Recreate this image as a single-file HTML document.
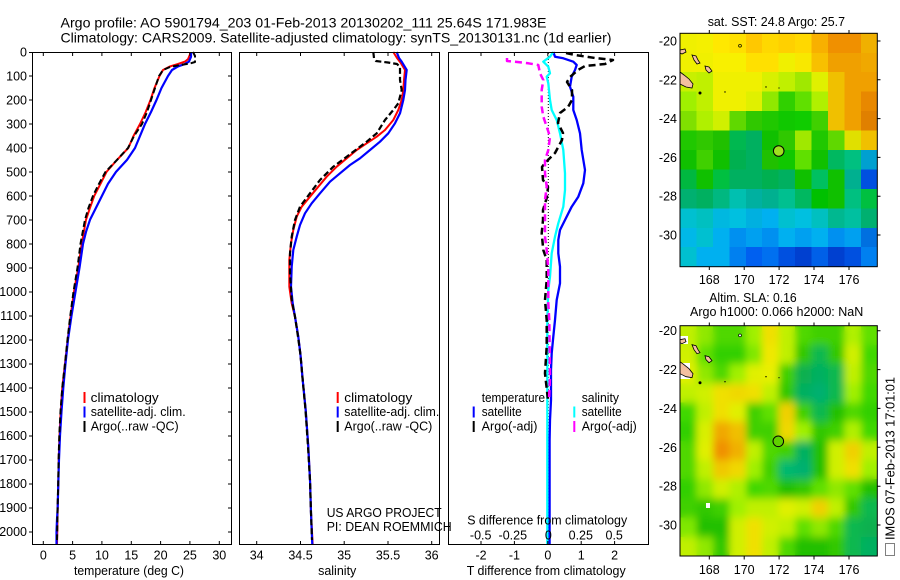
<!DOCTYPE html>
<html><head><meta charset="utf-8">
<style>
html,body{margin:0;padding:0;background:#fff;}
svg{display:block;font-family:"Liberation Sans",Arial,Helvetica,sans-serif;}
</style></head><body>
<svg width="900" height="580" viewBox="0 0 900 580" xmlns="http://www.w3.org/2000/svg">
<defs>
<filter id="bl" x="-0.2" y="-0.2" width="1.4" height="1.4"><feGaussianBlur stdDeviation="0.22"/></filter>
</defs>
<rect width="900" height="580" fill="#fff"/>

<!-- Titles -->
<text x="60.5" y="27.3" font-size="14" textLength="486" lengthAdjust="spacingAndGlyphs">Argo profile: AO 5901794_203 01-Feb-2013 20130202_111 25.64S 171.983E</text>
<text x="60.5" y="42.7" font-size="14" textLength="551" lengthAdjust="spacingAndGlyphs">Climatology: CARS2009. Satellite-adjusted climatology: synTS_20130131.nc (1d earlier)</text>

<!-- ========== LEFT PANEL ========== -->
<g fill="none" stroke-linejoin="round">
<polyline stroke="#ff0000" stroke-width="2" points="190,52 190,54.4 188,59.2 185,61.6 178,64 170,66.4 163,70 159.5,76 154.5,88 150.5,100 145.7,112 140,124 133.5,136 128.3,148 117,159.9 106.5,171.9 100.5,183.8 94.3,195.8 90,207.8 86,219.8 81.7,243.8 78.3,267.7 74,291.7 70.7,315.7 67.7,339.6 65,363.6 62.3,387.6 60.7,411.6 59.5,435.5 58.7,459.5 58.3,483.5 57.7,507.4 57.3,531.4 57,545"/>
<polyline stroke="#0000ff" stroke-width="2.2" points="191,52 191,56.8 189,61.6 185,64 178,66.4 172,70 168,76 161.5,88 156.5,100 151,112 145,124 140,136 135,148 127,159.9 116,171.9 108,183.8 102,195.8 96,207.8 90,219.8 86,231.8 83,243.8 79.5,267.7 75.5,291.7 71.5,315.7 68,339.6 65.5,363.6 63.3,387.6 61.5,411.6 60,435.5 59,459.5 58.3,483.5 57.7,507.4 57,519.4 56.5,531.4 56.5,545"/>
<polyline stroke="#000" stroke-width="2" stroke-dasharray="6,3" points="193,52 195,56 195,62 190,63.5 180,65 170,67 163,70 159,76 155,88 151,100 147,112 142,124 134,136 128,148 117,159.9 105.5,171.9 99,183.8 93,195.8 88.5,207.8 85,219.8 80.5,243.8 77.5,267.7 73.5,291.7 70.3,315.7 67.5,339.6 65,363.6 62.3,387.6 60.5,411.6 59.3,435.5 58.6,459.5 58.2,483.5 57.6,507.4 57.2,531.4 57,540"/>
</g>
<rect x="32.5" y="52.5" width="199" height="492" fill="none" stroke="#000" stroke-width="1"/>
<path stroke="#000" stroke-width="1" fill="none" d="M29,52.5H32.5M29,76H32.5M29,100H32.5M29,124H32.5M29,148H32.5M29,172H32.5M29,196H32.5M29,220H32.5M29,244H32.5M29,268H32.5M29,292H32.5M29,316H32.5M29,340H32.5M29,364H32.5M29,388H32.5M29,412H32.5M29,436H32.5M29,460H32.5M29,484H32.5M29,508H32.5M29,532H32.5
M228,76H231.5M228,100H231.5M228,124H231.5M228,148H231.5M228,172H231.5M228,196H231.5M228,220H231.5M228,244H231.5M228,268H231.5M228,292H231.5M228,316H231.5M228,340H231.5M228,364H231.5M228,388H231.5M228,412H231.5M228,436H231.5M228,460H231.5M228,484H231.5M228,508H231.5M228,532H231.5
M43.3,52.5V56M72.6,52.5V56M101.9,52.5V56M131.3,52.5V56M160.6,52.5V56M189.9,52.5V56M219.3,52.5V56
M43.3,541V544.5M72.6,541V544.5M101.9,541V544.5M131.3,541V544.5M160.6,541V544.5M189.9,541V544.5M219.3,541V544.5"/>
<g font-size="12.5" text-anchor="end">
<text x="27" y="56.5">0</text><text x="27" y="80.5">100</text><text x="27" y="104.4">200</text><text x="27" y="128.4">300</text><text x="27" y="152.4">400</text><text x="27" y="176.4">500</text><text x="27" y="200.3">600</text><text x="27" y="224.3">700</text><text x="27" y="248.3">800</text><text x="27" y="272.2">900</text><text x="27" y="296.2">1000</text><text x="27" y="320.2">1100</text><text x="27" y="344.1">1200</text><text x="27" y="368.1">1300</text><text x="27" y="392.1">1400</text><text x="27" y="416.1">1500</text><text x="27" y="440">1600</text><text x="27" y="464">1700</text><text x="27" y="488">1800</text><text x="27" y="511.9">1900</text><text x="27" y="535.9">2000</text>
</g>
<g font-size="12.5" text-anchor="middle">
<text x="43.3" y="559.5">0</text><text x="72.6" y="559.5">5</text><text x="101.9" y="559.5">10</text><text x="131.3" y="559.5">15</text><text x="160.6" y="559.5">20</text><text x="189.9" y="559.5">25</text><text x="219.3" y="559.5">30</text>
</g>
<text x="74" y="575" font-size="12.5" textLength="110" lengthAdjust="spacingAndGlyphs">temperature (deg C)</text>
<rect x="83.5" y="392" width="2" height="11" fill="#ff0000"/>
<rect x="83.5" y="406.5" width="2" height="11" fill="#0000ff"/>
<rect x="83.5" y="421" width="2" height="11" fill="#000"/>
<g font-size="12.5">
<text x="90.7" y="401.8" textLength="68" lengthAdjust="spacingAndGlyphs">climatology</text>
<text x="90.7" y="416.2" textLength="95" lengthAdjust="spacingAndGlyphs">satellite-adj. clim.</text>
<text x="90.7" y="430.5" textLength="88" lengthAdjust="spacingAndGlyphs">Argo(..raw -QC)</text>
</g>

<!-- ========== MIDDLE PANEL ========== -->
<g fill="none" stroke-linejoin="round">
<polyline stroke="#ff0000" stroke-width="2" points="393.3,52 397,58 401,63.3 405,70 404,80 403.3,90 401.7,100 398.3,110 393.3,120 385,130 376.7,136.7 366.7,143.3 356.7,150 346.7,158.3 336.7,166.7 326.7,176.7 318.3,186.7 310,196.7 301.7,206.7 296.7,216.7 293.3,230 291,243.3 289.3,260 289.3,286.7 291.7,303.3 295,316.7 298.3,336.7 300.5,355 302.7,380 305.7,410 308.3,446.7 310,480 311,513 312.7,545"/>
<polyline stroke="#0000ff" stroke-width="2.2" points="396.7,52 399,58 401.7,61.7 406.7,70 405.5,80 405,90 403.3,100 400,113.3 395,123.3 388.3,133.3 380,141.7 370,150 360,158.3 350,165 340,173.3 330,181.7 320,193.3 311.7,203.3 305,213.3 300,225 296.7,236.7 293.3,250 291.7,266.7 291,286.7 292.7,303.3 295,316.7 298.3,336.7 300.5,355 302.7,380 305.7,410 308.3,446.7 310,480 311,513 312.3,545"/>
<polyline stroke="#000" stroke-width="2.2" stroke-dasharray="6,3" points="373.3,52 374,58 376,61 388,62.5 397,64 400,67 400,80 401.7,90 398.3,103.3 393.3,110 385,120 376.7,133.3 366.7,141.7 346.7,156.7 333.3,166.7 320,180 310,193.3 300,206.7 295,220 291.7,236.7 290,253.3 290,273.3 291.7,300 295,316.7 298,336.7 300.5,355 302.7,380 305.5,410 308,446.7 310,480 311,513 312,540"/>
</g>
<rect x="239.5" y="52.5" width="200" height="492" fill="none" stroke="#000" stroke-width="1"/>
<path stroke="#000" stroke-width="1" fill="none" d="M256.7,52.5V56M300.5,52.5V56M344.2,52.5V56M388,52.5V56M431.7,52.5V56M256.7,541V544.5M300.5,541V544.5M344.2,541V544.5M388,541V544.5M431.7,541V544.5"/>
<g font-size="12.5" text-anchor="middle">
<text x="256.7" y="559.5">34</text><text x="300.5" y="559.5">34.5</text><text x="344.2" y="559.5">35</text><text x="388" y="559.5">35.5</text><text x="431.7" y="559.5">36</text>
<text x="337.2" y="575">salinity</text>
</g>
<rect x="336.7" y="392" width="2" height="11" fill="#ff0000"/>
<rect x="336.7" y="406.5" width="2" height="11" fill="#0000ff"/>
<rect x="336.7" y="421" width="2" height="11" fill="#000"/>
<g font-size="12.5">
<text x="344.3" y="401.8" textLength="68" lengthAdjust="spacingAndGlyphs">climatology</text>
<text x="344.3" y="416.2" textLength="95" lengthAdjust="spacingAndGlyphs">satellite-adj. clim.</text>
<text x="344.3" y="430.5" textLength="88" lengthAdjust="spacingAndGlyphs">Argo(..raw -QC)</text>
<text x="326.7" y="517.2" textLength="115" lengthAdjust="spacingAndGlyphs">US ARGO PROJECT</text>
<text x="326.7" y="531.2" textLength="125" lengthAdjust="spacingAndGlyphs">PI: DEAN ROEMMICH</text>
</g>

<!-- ========== RIGHT PANEL ========== -->
<line x1="548.3" y1="53" x2="548.3" y2="544" stroke="#000" stroke-width="1" stroke-dasharray="1,2"/>
<g fill="none" stroke-linejoin="round">
<polyline stroke="#0000ff" stroke-width="2.3" points="553.3,52 555,56.7 563.3,58.3 573.3,61.7 576.7,65 575,70 571.7,76.7 570,86.7 573.3,96.7 573.3,110 576.7,120 580,133.3 581.7,150 585,170 583.3,183.3 578.3,196.7 571.7,206.7 565,220 560,230 558.3,240 558.3,253.3 560,266.7 560,283.3 556.7,300 555,320 553.3,336.7 551.7,353.3 551,370 551,400 550,420 549.6,440 549.6,545"/>
<polyline stroke="#00ffff" stroke-width="2.3" points="553.3,52 550,56.7 543.3,61.7 548.3,66.7 550,73.3 546.7,76.7 548.3,83.3 550,100 551.7,110 556.7,120 560,133.3 563.3,150 565,173.3 565,190 563.3,206.7 558.3,223.3 555,236.7 551.7,253.3 550,276.7 548.3,290 547.3,320 547.3,545"/>
<polyline stroke="#000" stroke-width="2.5" stroke-dasharray="7,4" points="566,53 575,55 595,58 613,60 605,64 585,66 578,70 570,77 567,82 572,90 572,100 568,107 560,113 558,123 563,133 562,140 555,153 545,163 542,167 543,180 548,187 547,197 543,210 543,220 541.7,233.3 543.3,250 546.7,260 546.7,280 545,300 546.7,320 546.7,346.7 545,373.3 548,400"/>
<polyline stroke="#ff00ff" stroke-width="2.5" stroke-dasharray="7,4" points="507,58 507,61 515,61.7 528.3,63.3 538.3,65 540,73.3 543.3,80 541.7,90 541.7,106.7 543.3,116.7 546.7,126.7 550,136.7 548.3,150 545,160 545,173.3 546.7,186.7 545,200 545,213.3 545,236.7 546.7,250 548.3,270 548.3,303.3 549.3,320 550,376.7 549,400"/>
</g>
<rect x="448.5" y="52.5" width="200" height="492" fill="none" stroke="#000" stroke-width="1"/>
<path stroke="#000" stroke-width="1" fill="none" d="M481,52.5V56M514.4,52.5V56M547.8,52.5V56M581.2,52.5V56M614.6,52.5V56M481,541V544.5M514.4,541V544.5M547.8,541V544.5M581.2,541V544.5M614.6,541V544.5"/>
<g font-size="12.5" text-anchor="middle">
<text x="481" y="559.5">-2</text><text x="514.4" y="559.5">-1</text><text x="547.8" y="559.5">0</text><text x="581.2" y="559.5">1</text><text x="614.6" y="559.5">2</text>
<text x="480.7" y="539.5">-0.5</text><text x="512.8" y="539.5">-0.25</text><text x="548.3" y="539.5">0</text><text x="580.8" y="539.5">0.25</text><text x="614.2" y="539.5">0.5</text>
</g>
<g font-size="12.5">
<text x="467.2" y="524.5" textLength="160" lengthAdjust="spacingAndGlyphs">S difference from climatology</text>
<text x="466.7" y="575" textLength="159" lengthAdjust="spacingAndGlyphs">T difference from climatology</text>
<text x="481.7" y="401.8" textLength="63.3" lengthAdjust="spacingAndGlyphs">temperature</text>
<text x="481.7" y="416.2" textLength="40" lengthAdjust="spacingAndGlyphs">satellite</text>
<text x="481.7" y="430.5" textLength="55.7" lengthAdjust="spacingAndGlyphs">Argo(-adj)</text>
<text x="581.7" y="401.8" textLength="37.3" lengthAdjust="spacingAndGlyphs">salinity</text>
<text x="581.7" y="416.2" textLength="40" lengthAdjust="spacingAndGlyphs">satellite</text>
<text x="581.7" y="430.5" textLength="55" lengthAdjust="spacingAndGlyphs">Argo(-adj)</text>
</g>
<rect x="472.7" y="406.5" width="2" height="11" fill="#0000ff"/>
<rect x="472.7" y="421" width="2" height="11" fill="#000"/>
<rect x="573.3" y="406.5" width="2" height="11" fill="#00ffff"/>
<rect x="573.3" y="421" width="2" height="11" fill="#ff00ff"/>

<!-- ========== MAP 1 (SST) ========== -->
<text x="707.7" y="26.2" font-size="12.5" textLength="137.3" lengthAdjust="spacingAndGlyphs">sat. SST: 24.8 Argo: 25.7</text>
<svg x="680" y="33.3" width="197.3" height="233.4" viewBox="0 0 12 12" preserveAspectRatio="none" shape-rendering="crispEdges">
<g>
<rect x="0" y="0" width="1.05" height="1.05" fill="#f0f000"/><rect x="1" y="0" width="1.05" height="1.05" fill="#f4f000"/><rect x="2" y="0" width="1.05" height="1.05" fill="#ffe800"/><rect x="3" y="0" width="1.05" height="1.05" fill="#ffe000"/><rect x="4" y="0" width="1.05" height="1.05" fill="#ffc800"/><rect x="5" y="0" width="1.05" height="1.05" fill="#ffd800"/><rect x="6" y="0" width="1.05" height="1.05" fill="#ffd000"/><rect x="7" y="0" width="1.05" height="1.05" fill="#ffd800"/><rect x="8" y="0" width="1.05" height="1.05" fill="#f8b000"/><rect x="9" y="0" width="1.05" height="1.05" fill="#f09000"/><rect x="10" y="0" width="1.05" height="1.05" fill="#f09000"/><rect x="11" y="0" width="1.05" height="1.05" fill="#f0b000"/>
<rect x="0" y="1" width="1.05" height="1.05" fill="#f0f000"/><rect x="1" y="1" width="1.05" height="1.05" fill="#f0f000"/><rect x="2" y="1" width="1.05" height="1.05" fill="#f8f000"/><rect x="3" y="1" width="1.05" height="1.05" fill="#f8f000"/><rect x="4" y="1" width="1.05" height="1.05" fill="#ffe000"/><rect x="5" y="1" width="1.05" height="1.05" fill="#ffe000"/><rect x="6" y="1" width="1.05" height="1.05" fill="#f0f000"/><rect x="7" y="1" width="1.05" height="1.05" fill="#f8e800"/><rect x="8" y="1" width="1.05" height="1.05" fill="#f8c000"/><rect x="9" y="1" width="1.05" height="1.05" fill="#f0a000"/><rect x="10" y="1" width="1.05" height="1.05" fill="#f0a000"/><rect x="11" y="1" width="1.05" height="1.05" fill="#f0a800"/>
<rect x="0" y="2" width="1.05" height="1.05" fill="#c8f000"/><rect x="1" y="2" width="1.05" height="1.05" fill="#c0f000"/><rect x="2" y="2" width="1.05" height="1.05" fill="#f0f000"/><rect x="3" y="2" width="1.05" height="1.05" fill="#f0f000"/><rect x="4" y="2" width="1.05" height="1.05" fill="#f0f000"/><rect x="5" y="2" width="1.05" height="1.05" fill="#d8f000"/><rect x="6" y="2" width="1.05" height="1.05" fill="#c0f000"/><rect x="7" y="2" width="1.05" height="1.05" fill="#a0e800"/><rect x="8" y="2" width="1.05" height="1.05" fill="#e0f000"/><rect x="9" y="2" width="1.05" height="1.05" fill="#f0c000"/><rect x="10" y="2" width="1.05" height="1.05" fill="#f0a000"/><rect x="11" y="2" width="1.05" height="1.05" fill="#f0a000"/>
<rect x="0" y="3" width="1.05" height="1.05" fill="#a0f000"/><rect x="1" y="3" width="1.05" height="1.05" fill="#c0f000"/><rect x="2" y="3" width="1.05" height="1.05" fill="#f0f000"/><rect x="3" y="3" width="1.05" height="1.05" fill="#f0f000"/><rect x="4" y="3" width="1.05" height="1.05" fill="#e0f000"/><rect x="5" y="3" width="1.05" height="1.05" fill="#90e800"/><rect x="6" y="3" width="1.05" height="1.05" fill="#30d000"/><rect x="7" y="3" width="1.05" height="1.05" fill="#60e000"/><rect x="8" y="3" width="1.05" height="1.05" fill="#b0f000"/><rect x="9" y="3" width="1.05" height="1.05" fill="#f0c000"/><rect x="10" y="3" width="1.05" height="1.05" fill="#f0a000"/><rect x="11" y="3" width="1.05" height="1.05" fill="#e88800"/>
<rect x="0" y="4" width="1.05" height="1.05" fill="#80e000"/><rect x="1" y="4" width="1.05" height="1.05" fill="#b0f000"/><rect x="2" y="4" width="1.05" height="1.05" fill="#d0f000"/><rect x="3" y="4" width="1.05" height="1.05" fill="#60d800"/><rect x="4" y="4" width="1.05" height="1.05" fill="#30c800"/><rect x="5" y="4" width="1.05" height="1.05" fill="#20c800"/><rect x="6" y="4" width="1.05" height="1.05" fill="#10c800"/><rect x="7" y="4" width="1.05" height="1.05" fill="#10cc00"/><rect x="8" y="4" width="1.05" height="1.05" fill="#40d000"/><rect x="9" y="4" width="1.05" height="1.05" fill="#f0c000"/><rect x="10" y="4" width="1.05" height="1.05" fill="#f0a000"/><rect x="11" y="4" width="1.05" height="1.05" fill="#e08000"/>
<rect x="0" y="5" width="1.05" height="1.05" fill="#20c800"/><rect x="1" y="5" width="1.05" height="1.05" fill="#30c800"/><rect x="2" y="5" width="1.05" height="1.05" fill="#20c000"/><rect x="3" y="5" width="1.05" height="1.05" fill="#00b850"/><rect x="4" y="5" width="1.05" height="1.05" fill="#00b060"/><rect x="5" y="5" width="1.05" height="1.05" fill="#10c000"/><rect x="6" y="5" width="1.05" height="1.05" fill="#30c800"/><rect x="7" y="5" width="1.05" height="1.05" fill="#a0e800"/><rect x="8" y="5" width="1.05" height="1.05" fill="#20c800"/><rect x="9" y="5" width="1.05" height="1.05" fill="#60d800"/><rect x="10" y="5" width="1.05" height="1.05" fill="#e0e000"/><rect x="11" y="5" width="1.05" height="1.05" fill="#f0c000"/>
<rect x="0" y="6" width="1.05" height="1.05" fill="#10c000"/><rect x="1" y="6" width="1.05" height="1.05" fill="#40d000"/><rect x="2" y="6" width="1.05" height="1.05" fill="#10c000"/><rect x="3" y="6" width="1.05" height="1.05" fill="#00b050"/><rect x="4" y="6" width="1.05" height="1.05" fill="#00b060"/><rect x="5" y="6" width="1.05" height="1.05" fill="#20c000"/><rect x="6" y="6" width="1.05" height="1.05" fill="#10c800"/><rect x="7" y="6" width="1.05" height="1.05" fill="#60e000"/><rect x="8" y="6" width="1.05" height="1.05" fill="#10c000"/><rect x="9" y="6" width="1.05" height="1.05" fill="#00b860"/><rect x="10" y="6" width="1.05" height="1.05" fill="#00c080"/><rect x="11" y="6" width="1.05" height="1.05" fill="#00a0d0"/>
<rect x="0" y="7" width="1.05" height="1.05" fill="#00b840"/><rect x="1" y="7" width="1.05" height="1.05" fill="#10c000"/><rect x="2" y="7" width="1.05" height="1.05" fill="#00c040"/><rect x="3" y="7" width="1.05" height="1.05" fill="#00b060"/><rect x="4" y="7" width="1.05" height="1.05" fill="#00b060"/><rect x="5" y="7" width="1.05" height="1.05" fill="#00b050"/><rect x="6" y="7" width="1.05" height="1.05" fill="#00b060"/><rect x="7" y="7" width="1.05" height="1.05" fill="#10c000"/><rect x="8" y="7" width="1.05" height="1.05" fill="#00c060"/><rect x="9" y="7" width="1.05" height="1.05" fill="#10c000"/><rect x="10" y="7" width="1.05" height="1.05" fill="#00b090"/><rect x="11" y="7" width="1.05" height="1.05" fill="#0050e0"/>
<rect x="0" y="8" width="1.05" height="1.05" fill="#00b070"/><rect x="1" y="8" width="1.05" height="1.05" fill="#00b060"/><rect x="2" y="8" width="1.05" height="1.05" fill="#00b880"/><rect x="3" y="8" width="1.05" height="1.05" fill="#00c0b0"/><rect x="4" y="8" width="1.05" height="1.05" fill="#00b0a0"/><rect x="5" y="8" width="1.05" height="1.05" fill="#00b090"/><rect x="6" y="8" width="1.05" height="1.05" fill="#00c090"/><rect x="7" y="8" width="1.05" height="1.05" fill="#00b860"/><rect x="8" y="8" width="1.05" height="1.05" fill="#00c000"/><rect x="9" y="8" width="1.05" height="1.05" fill="#10c000"/><rect x="10" y="8" width="1.05" height="1.05" fill="#00c080"/><rect x="11" y="8" width="1.05" height="1.05" fill="#00c040"/>
<rect x="0" y="9" width="1.05" height="1.05" fill="#00c0d0"/><rect x="1" y="9" width="1.05" height="1.05" fill="#00c0c0"/><rect x="2" y="9" width="1.05" height="1.05" fill="#00b8e0"/><rect x="3" y="9" width="1.05" height="1.05" fill="#00c0e0"/><rect x="4" y="9" width="1.05" height="1.05" fill="#00b0e0"/><rect x="5" y="9" width="1.05" height="1.05" fill="#00b0f0"/><rect x="6" y="9" width="1.05" height="1.05" fill="#00c0d0"/><rect x="7" y="9" width="1.05" height="1.05" fill="#00c0e0"/><rect x="8" y="9" width="1.05" height="1.05" fill="#00c0c0"/><rect x="9" y="9" width="1.05" height="1.05" fill="#00b890"/><rect x="10" y="9" width="1.05" height="1.05" fill="#00c0a0"/><rect x="11" y="9" width="1.05" height="1.05" fill="#00b070"/>
<rect x="0" y="10" width="1.05" height="1.05" fill="#00b8e8"/><rect x="1" y="10" width="1.05" height="1.05" fill="#00c0d0"/><rect x="2" y="10" width="1.05" height="1.05" fill="#00b0f0"/><rect x="3" y="10" width="1.05" height="1.05" fill="#0090f0"/><rect x="4" y="10" width="1.05" height="1.05" fill="#00a0f0"/><rect x="5" y="10" width="1.05" height="1.05" fill="#0090f0"/><rect x="6" y="10" width="1.05" height="1.05" fill="#00b0f0"/><rect x="7" y="10" width="1.05" height="1.05" fill="#00a0f0"/><rect x="8" y="10" width="1.05" height="1.05" fill="#00b0f0"/><rect x="9" y="10" width="1.05" height="1.05" fill="#0090f0"/><rect x="10" y="10" width="1.05" height="1.05" fill="#00a0f0"/><rect x="11" y="10" width="1.05" height="1.05" fill="#0070e0"/>
<rect x="0" y="11" width="1.05" height="1.05" fill="#00c0d0"/><rect x="1" y="11" width="1.05" height="1.05" fill="#00b0f0"/><rect x="2" y="11" width="1.05" height="1.05" fill="#00b0f0"/><rect x="3" y="11" width="1.05" height="1.05" fill="#0080f0"/><rect x="4" y="11" width="1.05" height="1.05" fill="#0060f0"/><rect x="5" y="11" width="1.05" height="1.05" fill="#0070f0"/><rect x="6" y="11" width="1.05" height="1.05" fill="#0050e0"/><rect x="7" y="11" width="1.05" height="1.05" fill="#0040d0"/><rect x="8" y="11" width="1.05" height="1.05" fill="#0060e8"/><rect x="9" y="11" width="1.05" height="1.05" fill="#0040d0"/><rect x="10" y="11" width="1.05" height="1.05" fill="#0050e0"/><rect x="11" y="11" width="1.05" height="1.05" fill="#0080f0"/>
</g>
</svg>
<!-- land map1 -->
<g fill="#f4c0a0" stroke="#000" stroke-width="0.8">
<path d="M680,72 L684,75 L689,79 L693,84 L692,88 L686,87 L682,85 L680,84 Z"/>
<path d="M680,50 L685,49 L686,52 L682,54 L680,53 Z"/>
<path d="M692,55 L696,56 L698,60 L700,63 L697,64 L694,60 Z"/>
<path d="M705,66 L709,67 L712,71 L709,73 L706,70 Z"/>
</g>
<g fill="#000"><circle cx="700" cy="93" r="1.5"/><circle cx="725" cy="92" r="0.7"/><circle cx="766" cy="87" r="0.7"/><circle cx="779" cy="88" r="0.6"/></g>
<circle cx="740" cy="45.7" r="1.4" fill="none" stroke="#000" stroke-width="0.7"/>
<circle cx="778.7" cy="151" r="5.3" fill="#a0e020" stroke="#000" stroke-width="1"/>
<rect x="680" y="33.3" width="197.3" height="233.4" fill="none" stroke="#000" stroke-width="1"/>
<path stroke="#000" stroke-width="1" fill="none" d="M709.3,30V33.3M744.2,30V33.3M779.1,30V33.3M814,30V33.3M849,30V33.3M709.3,266.7V270M744.2,266.7V270M779.1,266.7V270M814,266.7V270M849,266.7V270M877.3,41H880.5M877.3,79.8H880.5M877.3,118.6H880.5M877.3,157.4H880.5M877.3,196.2H880.5M877.3,235H880.5"/>
<g font-size="12.5" text-anchor="end">
<text x="677" y="45.5">-20</text><text x="677" y="84.3">-22</text><text x="677" y="123.1">-24</text><text x="677" y="161.9">-26</text><text x="677" y="200.7">-28</text><text x="677" y="239.5">-30</text>
</g>
<g font-size="12.5" text-anchor="middle">
<text x="709.3" y="283.8">168</text><text x="744.2" y="283.8">170</text><text x="779.1" y="283.8">172</text><text x="814" y="283.8">174</text><text x="849" y="283.8">176</text>
</g>

<!-- ========== MAP 2 (SLA) ========== -->
<text x="709.3" y="301.8" font-size="12.5" textLength="87.4" lengthAdjust="spacingAndGlyphs">Altim. SLA: 0.16</text>
<text x="690" y="316.2" font-size="12.5" textLength="173.3" lengthAdjust="spacingAndGlyphs">Argo h1000: 0.066 h2000: NaN</text>
<svg x="680" y="325.7" width="197.3" height="230.3" viewBox="0 0 12 12" preserveAspectRatio="none" shape-rendering="crispEdges">
<g id="g2">
<rect x="0" y="0" width="1.05" height="1.05" fill="#c0f000"/><rect x="1" y="0" width="1.05" height="1.05" fill="#90e800"/><rect x="2" y="0" width="1.05" height="1.05" fill="#50d800"/><rect x="3" y="0" width="1.05" height="1.05" fill="#50d800"/><rect x="4" y="0" width="1.05" height="1.05" fill="#a0f000"/><rect x="5" y="0" width="1.05" height="1.05" fill="#f0e000"/><rect x="6" y="0" width="1.05" height="1.05" fill="#c0f000"/><rect x="7" y="0" width="1.05" height="1.05" fill="#50d800"/><rect x="8" y="0" width="1.05" height="1.05" fill="#40d000"/><rect x="9" y="0" width="1.05" height="1.05" fill="#40d000"/><rect x="10" y="0" width="1.05" height="1.05" fill="#b0f000"/><rect x="11" y="0" width="1.05" height="1.05" fill="#60e000"/>
<rect x="0" y="1" width="1.05" height="1.05" fill="#d0f000"/><rect x="1" y="1" width="1.05" height="1.05" fill="#60e000"/><rect x="2" y="1" width="1.05" height="1.05" fill="#30d000"/><rect x="3" y="1" width="1.05" height="1.05" fill="#30d000"/><rect x="4" y="1" width="1.05" height="1.05" fill="#80e800"/><rect x="5" y="1" width="1.05" height="1.05" fill="#f0e800"/><rect x="6" y="1" width="1.05" height="1.05" fill="#c0f000"/><rect x="7" y="1" width="1.05" height="1.05" fill="#30c800"/><rect x="8" y="1" width="1.05" height="1.05" fill="#10b850"/><rect x="9" y="1" width="1.05" height="1.05" fill="#30c800"/><rect x="10" y="1" width="1.05" height="1.05" fill="#d0f000"/><rect x="11" y="1" width="1.05" height="1.05" fill="#40d800"/>
<rect x="0" y="2" width="1.05" height="1.05" fill="#e0f000"/><rect x="1" y="2" width="1.05" height="1.05" fill="#90e800"/><rect x="2" y="2" width="1.05" height="1.05" fill="#50d800"/><rect x="3" y="2" width="1.05" height="1.05" fill="#a0f000"/><rect x="4" y="2" width="1.05" height="1.05" fill="#e0f000"/><rect x="5" y="2" width="1.05" height="1.05" fill="#e8f000"/><rect x="6" y="2" width="1.05" height="1.05" fill="#40d000"/><rect x="7" y="2" width="1.05" height="1.05" fill="#10b050"/><rect x="8" y="2" width="1.05" height="1.05" fill="#00b060"/><rect x="9" y="2" width="1.05" height="1.05" fill="#10b850"/><rect x="10" y="2" width="1.05" height="1.05" fill="#c0f000"/><rect x="11" y="2" width="1.05" height="1.05" fill="#50d800"/>
<rect x="0" y="3" width="1.05" height="1.05" fill="#c0f000"/><rect x="1" y="3" width="1.05" height="1.05" fill="#d0f000"/><rect x="2" y="3" width="1.05" height="1.05" fill="#f0e000"/><rect x="3" y="3" width="1.05" height="1.05" fill="#f0d800"/><rect x="4" y="3" width="1.05" height="1.05" fill="#f0e000"/><rect x="5" y="3" width="1.05" height="1.05" fill="#c0f000"/><rect x="6" y="3" width="1.05" height="1.05" fill="#30c800"/><rect x="7" y="3" width="1.05" height="1.05" fill="#00b060"/><rect x="8" y="3" width="1.05" height="1.05" fill="#00b070"/><rect x="9" y="3" width="1.05" height="1.05" fill="#10b850"/><rect x="10" y="3" width="1.05" height="1.05" fill="#a0f000"/><rect x="11" y="3" width="1.05" height="1.05" fill="#40d800"/>
<rect x="0" y="4" width="1.05" height="1.05" fill="#40d800"/><rect x="1" y="4" width="1.05" height="1.05" fill="#c0f000"/><rect x="2" y="4" width="1.05" height="1.05" fill="#f0e000"/><rect x="3" y="4" width="1.05" height="1.05" fill="#e0f000"/><rect x="4" y="4" width="1.05" height="1.05" fill="#40d000"/><rect x="5" y="4" width="1.05" height="1.05" fill="#60e000"/><rect x="6" y="4" width="1.05" height="1.05" fill="#f0d000"/><rect x="7" y="4" width="1.05" height="1.05" fill="#40d000"/><rect x="8" y="4" width="1.05" height="1.05" fill="#10b850"/><rect x="9" y="4" width="1.05" height="1.05" fill="#20c000"/><rect x="10" y="4" width="1.05" height="1.05" fill="#50d800"/><rect x="11" y="4" width="1.05" height="1.05" fill="#30d000"/>
<rect x="0" y="5" width="1.05" height="1.05" fill="#30d000"/><rect x="1" y="5" width="1.05" height="1.05" fill="#d8f000"/><rect x="2" y="5" width="1.05" height="1.05" fill="#f0a800"/><rect x="3" y="5" width="1.05" height="1.05" fill="#f0c000"/><rect x="4" y="5" width="1.05" height="1.05" fill="#40d000"/><rect x="5" y="5" width="1.05" height="1.05" fill="#40d000"/><rect x="6" y="5" width="1.05" height="1.05" fill="#f0d800"/><rect x="7" y="5" width="1.05" height="1.05" fill="#a0f000"/><rect x="8" y="5" width="1.05" height="1.05" fill="#30c800"/><rect x="9" y="5" width="1.05" height="1.05" fill="#40d000"/><rect x="10" y="5" width="1.05" height="1.05" fill="#b0f000"/><rect x="11" y="5" width="1.05" height="1.05" fill="#40d800"/>
<rect x="0" y="6" width="1.05" height="1.05" fill="#50d800"/><rect x="1" y="6" width="1.05" height="1.05" fill="#e0f000"/><rect x="2" y="6" width="1.05" height="1.05" fill="#f09000"/><rect x="3" y="6" width="1.05" height="1.05" fill="#f0b000"/><rect x="4" y="6" width="1.05" height="1.05" fill="#c0f000"/><rect x="5" y="6" width="1.05" height="1.05" fill="#50d800"/><rect x="6" y="6" width="1.05" height="1.05" fill="#40d000"/><rect x="7" y="6" width="1.05" height="1.05" fill="#00b060"/><rect x="8" y="6" width="1.05" height="1.05" fill="#20c000"/><rect x="9" y="6" width="1.05" height="1.05" fill="#d0f000"/><rect x="10" y="6" width="1.05" height="1.05" fill="#f0d000"/><rect x="11" y="6" width="1.05" height="1.05" fill="#c0f000"/>
<rect x="0" y="7" width="1.05" height="1.05" fill="#50d800"/><rect x="1" y="7" width="1.05" height="1.05" fill="#c0f000"/><rect x="2" y="7" width="1.05" height="1.05" fill="#f0c800"/><rect x="3" y="7" width="1.05" height="1.05" fill="#f0d800"/><rect x="4" y="7" width="1.05" height="1.05" fill="#a0f000"/><rect x="5" y="7" width="1.05" height="1.05" fill="#40d000"/><rect x="6" y="7" width="1.05" height="1.05" fill="#00b870"/><rect x="7" y="7" width="1.05" height="1.05" fill="#00b070"/><rect x="8" y="7" width="1.05" height="1.05" fill="#20c000"/><rect x="9" y="7" width="1.05" height="1.05" fill="#d0f000"/><rect x="10" y="7" width="1.05" height="1.05" fill="#f0e000"/><rect x="11" y="7" width="1.05" height="1.05" fill="#a0f000"/>
<rect x="0" y="8" width="1.05" height="1.05" fill="#30d000"/><rect x="1" y="8" width="1.05" height="1.05" fill="#90e800"/><rect x="2" y="8" width="1.05" height="1.05" fill="#d0f000"/><rect x="3" y="8" width="1.05" height="1.05" fill="#b0f000"/><rect x="4" y="8" width="1.05" height="1.05" fill="#40d800"/><rect x="5" y="8" width="1.05" height="1.05" fill="#50d800"/><rect x="6" y="8" width="1.05" height="1.05" fill="#20c000"/><rect x="7" y="8" width="1.05" height="1.05" fill="#30c800"/><rect x="8" y="8" width="1.05" height="1.05" fill="#60e000"/><rect x="9" y="8" width="1.05" height="1.05" fill="#90e800"/><rect x="10" y="8" width="1.05" height="1.05" fill="#60e000"/><rect x="11" y="8" width="1.05" height="1.05" fill="#20c000"/>
<rect x="0" y="9" width="1.05" height="1.05" fill="#40d000"/><rect x="1" y="9" width="1.05" height="1.05" fill="#30c800"/><rect x="2" y="9" width="1.05" height="1.05" fill="#40d000"/><rect x="3" y="9" width="1.05" height="1.05" fill="#a0f000"/><rect x="4" y="9" width="1.05" height="1.05" fill="#c0f000"/><rect x="5" y="9" width="1.05" height="1.05" fill="#c0f000"/><rect x="6" y="9" width="1.05" height="1.05" fill="#e0f000"/><rect x="7" y="9" width="1.05" height="1.05" fill="#d0f000"/><rect x="8" y="9" width="1.05" height="1.05" fill="#f0d000"/><rect x="9" y="9" width="1.05" height="1.05" fill="#c0f000"/><rect x="10" y="9" width="1.05" height="1.05" fill="#30c800"/><rect x="11" y="9" width="1.05" height="1.05" fill="#10b850"/>
<rect x="0" y="10" width="1.05" height="1.05" fill="#80e800"/><rect x="1" y="10" width="1.05" height="1.05" fill="#20c000"/><rect x="2" y="10" width="1.05" height="1.05" fill="#20c000"/><rect x="3" y="10" width="1.05" height="1.05" fill="#d0f000"/><rect x="4" y="10" width="1.05" height="1.05" fill="#f0e000"/><rect x="5" y="10" width="1.05" height="1.05" fill="#d0f000"/><rect x="6" y="10" width="1.05" height="1.05" fill="#c0f000"/><rect x="7" y="10" width="1.05" height="1.05" fill="#60e000"/><rect x="8" y="10" width="1.05" height="1.05" fill="#90e800"/><rect x="9" y="10" width="1.05" height="1.05" fill="#50d800"/><rect x="10" y="10" width="1.05" height="1.05" fill="#10b850"/><rect x="11" y="10" width="1.05" height="1.05" fill="#10b050"/>
<rect x="0" y="11" width="1.05" height="1.05" fill="#c0f000"/><rect x="1" y="11" width="1.05" height="1.05" fill="#90e800"/><rect x="2" y="11" width="1.05" height="1.05" fill="#30c800"/><rect x="3" y="11" width="1.05" height="1.05" fill="#d0f000"/><rect x="4" y="11" width="1.05" height="1.05" fill="#f0e000"/><rect x="5" y="11" width="1.05" height="1.05" fill="#c0f000"/><rect x="6" y="11" width="1.05" height="1.05" fill="#50d800"/><rect x="7" y="11" width="1.05" height="1.05" fill="#20c000"/><rect x="8" y="11" width="1.05" height="1.05" fill="#20c000"/><rect x="9" y="11" width="1.05" height="1.05" fill="#30c800"/><rect x="10" y="11" width="1.05" height="1.05" fill="#10b850"/><rect x="11" y="11" width="1.05" height="1.05" fill="#00b060"/>
</g>
<use href="#g2" filter="url(#bl)"/>
</svg>
<!-- land map2 -->
<g fill="#fff"><rect x="680" y="336" width="8" height="8"/><rect x="680" y="363" width="10" height="16"/></g>
<g fill="#f4c0a0" stroke="#000" stroke-width="0.8">
<path d="M680,361.7 L684,364.7 L689,368.7 L693,373.7 L692,377.7 L686,376.7 L682,374.7 L680,373.7 Z"/>
<path d="M680,339.7 L685,338.7 L686,341.7 L682,343.7 L680,342.7 Z"/>
<path d="M692,344.7 L696,345.7 L698,349.7 L700,352.7 L697,353.7 L694,349.7 Z"/>
<path d="M705,355.7 L709,356.7 L712,360.7 L709,362.7 L706,359.7 Z"/>
</g>
<g fill="#000"><circle cx="700" cy="382.7" r="1.5"/><circle cx="725" cy="381.7" r="0.7"/><circle cx="766" cy="376.7" r="0.7"/><circle cx="779" cy="377.7" r="0.6"/></g>
<circle cx="740" cy="335.4" r="1.4" fill="#fff" stroke="#000" stroke-width="0.7"/>
<rect x="706" y="503" width="4" height="5" fill="#fff"/>
<circle cx="778.3" cy="441.3" r="5.3" fill="#60d000" stroke="#000" stroke-width="1"/>
<rect x="680" y="325.7" width="197.3" height="230.3" fill="none" stroke="#000" stroke-width="1"/>
<path stroke="#000" stroke-width="1" fill="none" d="M709.3,322.5V325.7M744.2,322.5V325.7M779.1,322.5V325.7M814,322.5V325.7M849,322.5V325.7M709.3,556V559.5M744.2,556V559.5M779.1,556V559.5M814,556V559.5M849,556V559.5M877.3,330.7H880.5M877.3,369.6H880.5M877.3,408.4H880.5M877.3,447.3H880.5M877.3,486.2H880.5M877.3,525H880.5"/>
<g font-size="12.5" text-anchor="end">
<text x="677" y="335.2">-20</text><text x="677" y="374.1">-22</text><text x="677" y="412.9">-24</text><text x="677" y="451.8">-26</text><text x="677" y="490.7">-28</text><text x="677" y="529.5">-30</text>
</g>
<g font-size="12.5" text-anchor="middle">
<text x="709.3" y="573.8">168</text><text x="744.2" y="573.8">170</text><text x="779.1" y="573.8">172</text><text x="814" y="573.8">174</text><text x="849" y="573.8">176</text>
</g>

<!-- IMOS vertical stamp -->
<text transform="translate(894.5,540) rotate(-90)" font-size="12.5" textLength="163" lengthAdjust="spacingAndGlyphs">IMOS 07-Feb-2013 17:01:01</text>
<rect x="885.5" y="543.5" width="9" height="12" fill="none" stroke="#000" stroke-width="1" stroke-dasharray="1,1"/>
</svg>
</body></html>
